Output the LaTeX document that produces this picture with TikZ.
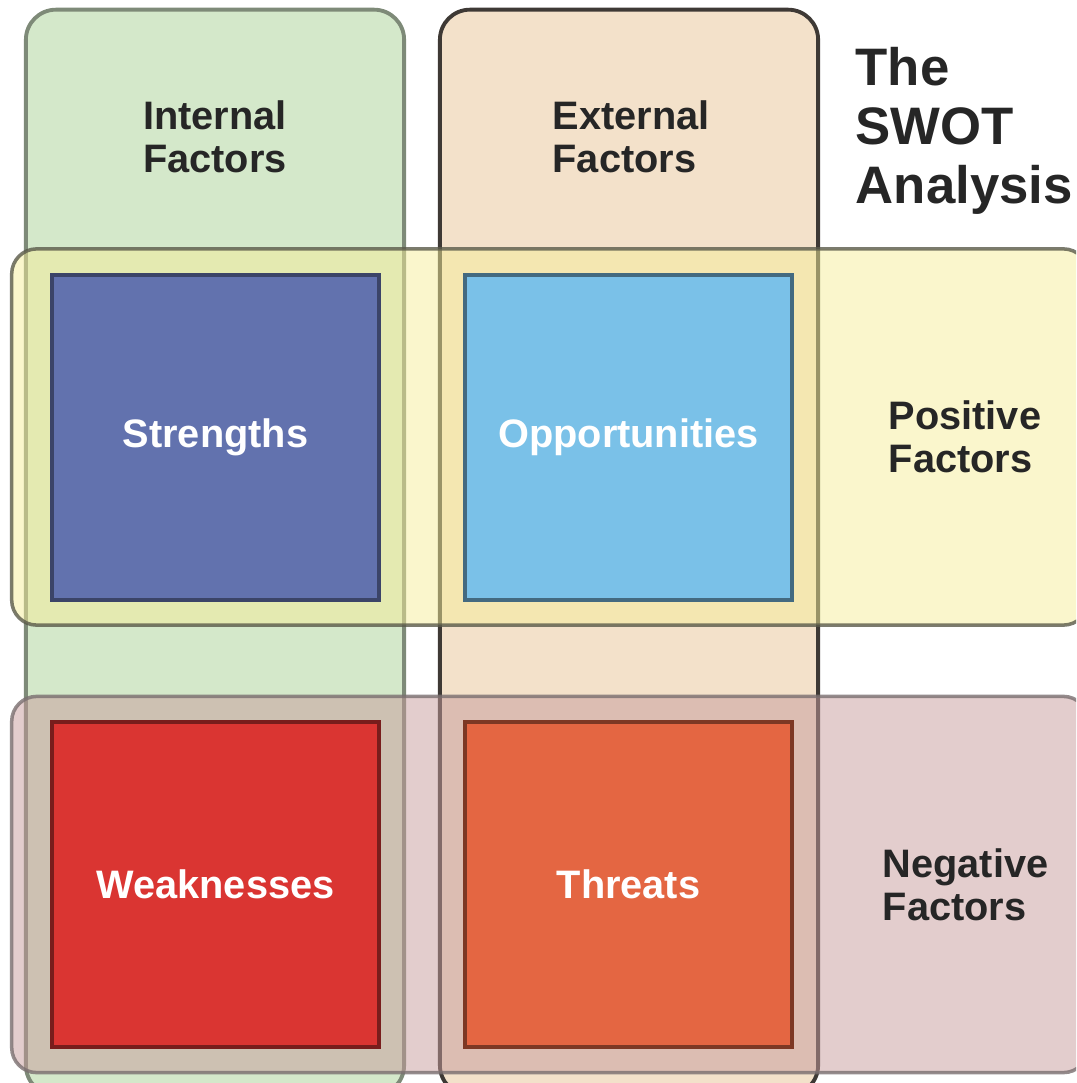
\documentclass[tikz,border=0pt]{standalone}
\usepackage{fontspec}
\setmainfont{Liberation Sans}
\usetikzlibrary{positioning}

\definecolor{intgreen}{HTML}{D4E8CA}
\definecolor{intline}{HTML}{7E8A78}
\definecolor{exttan}{HTML}{F3E1CA}
\definecolor{extline}{HTML}{3E3935}
\definecolor{posyellow}{RGB}{245,237,153}
\definecolor{posline}{HTML}{5A5A4A}
\definecolor{negpink}{RGB}{199,155,155}
\definecolor{negline}{HTML}{7A6F70}
\definecolor{strblue}{HTML}{6272AE}
\definecolor{oppblue}{HTML}{7AC1E8}
\definecolor{weakred}{HTML}{DA3532}
\definecolor{throrange}{HTML}{E46642}

\newcommand\swotlabelfont{\fontsize{11.3}{12.3}\selectfont\bfseries}
\newcommand\swottitlefont{\fontsize{15}{16.8}\selectfont\bfseries}

\begin{document}
\begin{tikzpicture}
 [
  x=0.01cm, y=-0.01cm,
  column/.style={rectangle, rounded corners=0.3cm, minimum width=3.78cm, minimum height=10.85cm, line width=1.1pt},
  band/.style={rectangle, rounded corners=0.25cm, minimum width=10.76cm, minimum height=3.76cm, fill opacity=0.5, draw opacity=0.8, line width=1pt},
  quad/.style={rectangle, minimum width=3.27cm, minimum height=3.25cm, line width=1.3pt, text=white, font=\swotlabelfont},
  caption/.style={align=left, inner sep=0pt, text=black!85, font=\swotlabelfont},
 ]
  \clip (0,0) rectangle (1076,1083);

  % factor columns
  \node [column, fill=intgreen, draw=intline] (internal) at (215,552.5) {};
  \node [column, fill=exttan, draw=extline] (external) at (629,552.5) {};

  % factor rows
  \node [band, fill=posyellow, draw=posline] (positive) at (550,437) {};
  \node [band, fill=negpink, draw=negline] (negative) at (550,884.5) {};

  % the four squares
  \node [quad, fill=strblue, draw=strblue!60!black] (strengths) at (215.5,437.5) {Strengths};
  \node [quad, fill=oppblue, draw=oppblue!55!black] (opps) at (628.5,437.5) {Opportunities};
  \node [quad, fill=weakred, draw=weakred!55!black] (weak) at (215.5,884.5) {Weaknesses};
  \node [quad, fill=throrange, draw=throrange!55!black] (threats) at (628.5,884.5) {Threats};

  % captions
  \node [caption] (intlabel) at (215,137) {Internal\\Factors};
  \node [caption, anchor=west] (extlabel) at (552,137) {External\\Factors};
  \node [caption, anchor=west, font=\swottitlefont] (title) at (855,131) {The\\SWOT\\Analysis};
  \node [caption, anchor=west] (poslabel) at (888,437) {Positive\\Factors};
  \node [caption, anchor=west] (neglabel) at (882,884.5) {Negative\\Factors};
\end{tikzpicture}
\end{document}
